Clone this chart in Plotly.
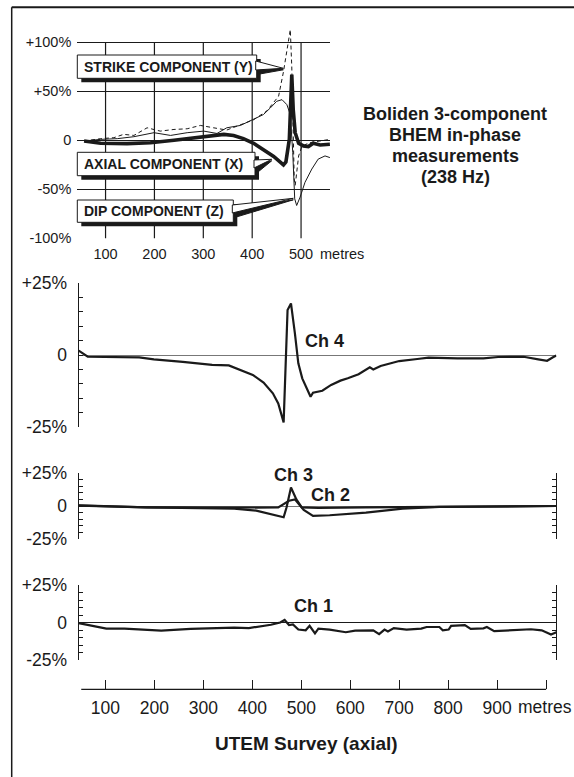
import plotly.graph_objects as go

# ---- top panel: Boliden BHEM, in-phase, % ----
x_axial = [56, 90, 144, 192, 240, 294, 342, 362, 382, 403, 423, 444, 464, 469, 476, 481, 484, 488, 495, 505, 515, 525, 539, 549, 559]
y_axial = [-0.7, -3, -3.4, -2.4, 0, 3.7, 6.1, 5, 1.7, -3, -9.1, -16.5, -25, -22, 1, 67, 31, 7.8, -3, -5.7, -6.4, -3, -4.7, -4.7, -4]

x_dip = [56, 90, 124, 158, 199, 233, 267, 301, 328, 348, 376, 403, 423, 437, 450, 461, 471, 478, 483, 487, 491, 498, 508, 522, 535, 549, 559]
y_dip = [-0.7, 1, 1.7, 3.7, 7.8, 5, 7.8, 9.4, 7, 12.8, 15.2, 21.9, 26.3, 33, 39.8, 41.5, 36.4, 26.3, -12.5, -59.7, -66.5, -58, -42.9, -29.3, -19.2, -15.9, -17.6]

x_strike = [56, 90, 117, 137, 158, 185, 212, 240, 267, 294, 321, 348, 403, 430, 454, 464, 478, 481, 486, 488, 495, 502, 518, 539, 559]
y_strike = [-0.7, 1.7, 2.7, 6.1, 5, 12.8, 9.4, 11.1, 11.8, 15.2, 12.8, 10.5, 21, 30, 45, 70, 113, 75, -39.5, -46, -16, -5.7, -2.4, -0.7, 1]

top_xticks = [100, 200, 300, 400, 500]
top_yticks = [-100, -50, 0, 50, 100]
top_ylabels = ["-100%", "-50%", "0", "+50%", "+100%"]

# ---- UTEM channels, % ----
x_ch4 = [45.5, 64, 169, 199, 258, 318, 352, 378, 401, 423, 442, 453, 464, 472, 479, 487, 494, 502, 519, 524, 543, 561, 580, 595, 617, 640, 647, 662, 700, 737, 760, 819, 872, 902, 954, 984, 1002, 1014, 1021]
y_ch4 = [1.5, -0.6, -0.8, -1.5, -2.4, -3.4, -3.6, -5.4, -6.9, -9.6, -13.3, -16.8, -23.4, 15.6, 17.9, 7.5, -2.9, -8.1, -14.5, -13.1, -12.4, -10.4, -8.9, -8.1, -6.7, -4.3, -5.0, -3.8, -2.1, -1.4, -0.9, -1.2, -1.2, -0.7, -0.6, -1.5, -2.0, -0.8, -0.2]

x_ch3 = [45.5, 184, 363, 408, 464, 470, 479, 490, 501, 535, 632, 782, 1021]
y_ch3 = [0.5, -1, -2, -3.5, -8.5, -1, 14, 5, -1, -1.5, -1, -0.5, 0]

x_ch2 = [45.5, 184, 363, 453, 475, 487, 505, 524, 558, 632, 707, 782, 1021]
y_ch2 = [0.3, -1, -1.3, -1, 4, 5, -3, -7.5, -7, -5, -2, -0.7, 0]

x_ch1 = [45.5, 72, 102, 139, 214, 274, 333, 363, 393, 438, 457, 466, 475, 483, 494, 509, 517, 528, 535, 558, 591, 610, 647, 659, 670, 677, 689, 715, 745, 756, 782, 789, 801, 806, 834, 846, 872, 879, 894, 932, 969, 991, 1010, 1021]
y_ch1 = [-0.4, -2.2, -4.1, -4.1, -5.4, -4.3, -3.9, -3.4, -3.7, -1.5, 0, 1.7, -1.7, -1.3, -4.7, -5.2, -2.2, -7.3, -4.1, -4.7, -6.5, -5.4, -5.2, -7.8, -4.7, -6, -3.7, -4.7, -4.1, -3, -3, -5.2, -4.7, -2.2, -1.7, -4.3, -3.9, -3, -5.8, -5.2, -4.5, -5.2, -8, -6.5]

ch_yticks = [-25, -20, -15, -10, -5, 0, 5, 10, 15, 20, 25]
ch_ylabels = ["-25%", "", "", "", "", "0", "", "", "", "", "+25%"]
bot_xticks = [100, 200, 300, 400, 500, 600, 700, 800, 900, 1000]
bot_xlabels = ["100", "200", "300", "400", "500", "600", "700", "800", "900", ""]

W, H = 574, 777
FONT = "Arial, Liberation Sans, sans-serif"
INK = "#1a1a1a"


def fx(px):
    return px / W


def fy(py):
    return 1 - py / H


fig = go.Figure()

line_thin = dict(color=INK, width=1)
fig.add_trace(go.Scatter(x=x_strike, y=y_strike, mode="lines",
                         line=dict(color=INK, width=1, dash="4px,3px"), xaxis="x", yaxis="y"))
fig.add_trace(go.Scatter(x=x_dip, y=y_dip, mode="lines", line=line_thin, xaxis="x", yaxis="y"))
fig.add_trace(go.Scatter(x=x_axial, y=y_axial, mode="lines",
                         line=dict(color=INK, width=3.6), xaxis="x", yaxis="y"))

ch_line = dict(color=INK, width=2.2)
fig.add_trace(go.Scatter(x=x_ch4, y=y_ch4, mode="lines", line=ch_line, xaxis="x2", yaxis="y2"))
fig.add_trace(go.Scatter(x=x_ch3, y=y_ch3, mode="lines", line=ch_line, xaxis="x3", yaxis="y3"))
fig.add_trace(go.Scatter(x=x_ch2, y=y_ch2, mode="lines", line=ch_line, xaxis="x3", yaxis="y3"))
fig.add_trace(go.Scatter(x=x_ch1, y=y_ch1, mode="lines", line=ch_line, xaxis="x4", yaxis="y4"))

bx_dom = [fx(78.7), fx(556.4)]
bx_rng = [45.5, 1021]
hidden_x = dict(domain=bx_dom, range=bx_rng, showgrid=False, zeroline=False, automargin=False,
                showline=False, showticklabels=False, ticks="")


def ch_yaxis(top, bot, anchor, zcol, mirror):
    return dict(domain=[fy(bot), fy(top)], range=[-25, 25], anchor=anchor, automargin=False,
                tickvals=ch_yticks, ticktext=ch_ylabels, ticks="inside", ticklen=4,
                tickcolor=INK, tickwidth=1.2, showline=True, linecolor=INK, linewidth=1.3,
                mirror=mirror, showgrid=False, zeroline=True, zerolinecolor=zcol,
                zerolinewidth=1, tickfont=dict(size=17.5, color=INK), ticklabelstandoff=7)


fig.update_layout(
    width=W, height=H, margin=dict(l=0, r=0, t=0, b=0, pad=0, autoexpand=False),
    paper_bgcolor="white", plot_bgcolor="white", showlegend=False,
    font=dict(family=FONT, color=INK),
    xaxis=dict(domain=[fx(77.3), fx(330)], range=[42.2, 559.2], anchor="y", automargin=False,
               tickvals=top_xticks, showgrid=False, zeroline=False, showline=False,
               ticks="", tickfont=dict(size=14.5, color=INK), ticklabelstandoff=4),
    yaxis=dict(domain=[fy(239.3), fy(24.7)], range=[-101, 118], anchor="x", automargin=False,
               tickvals=top_yticks, ticktext=top_ylabels, showgrid=True,
               gridcolor=INK, gridwidth=1.2, zeroline=False, showline=False, ticks="",
               tickfont=dict(size=14.5, color=INK), ticklabelstandoff=5),
    xaxis2=dict(hidden_x, anchor="y2"),
    yaxis2=ch_yaxis(283, 427, "x2", "#777777", False),
    yaxis5=dict(overlaying="y2", side="right", anchor="x2", range=[-25, 25], automargin=False,
                tickvals=[-25, 25], ticks="inside", ticklen=4, tickcolor=INK,
                showticklabels=False, showline=True, linecolor=INK, linewidth=1.3,
                showgrid=False, zeroline=False),
    xaxis3=dict(hidden_x, anchor="y3"),
    yaxis3=ch_yaxis(473, 539, "x3", "#777777", "ticks"),
    xaxis4=dict(domain=bx_dom, range=bx_rng, anchor="free", position=fy(689.3), automargin=False,
                tickvals=bot_xticks, ticktext=bot_xlabels, ticks="inside", ticklen=9,
                tickcolor=INK, tickwidth=1.3, showgrid=False, zeroline=False,
                showline=False, tickfont=dict(size=17.5, color=INK), ticklabelstandoff=6),
    yaxis4=ch_yaxis(585, 660, "x4", INK, "ticks"),
)

shapes = []
# frame
shapes.append(dict(type="line", xref="paper", yref="paper", x0=fx(11.7), x1=1, y0=fy(7.3), y1=fy(7.3),
                   line=dict(color=INK, width=2)))
shapes.append(dict(type="line", xref="paper", yref="paper", x0=fx(11.7), x1=fx(11.7), y0=fy(7.3), y1=0,
                   line=dict(color=INK, width=1.5)))
# vertical gridlines of top panel
for v in top_xticks:
    shapes.append(dict(type="line", xref="x", yref="y", x0=v, x1=v, y0=-100, y1=100,
                       layer="below", line=dict(color=INK, width=1.2)))
# bottom distance axis line
shapes.append(dict(type="line", xref="x4", yref="paper", x0=50.7, x1=1000,
                   y0=fy(689.3), y1=fy(689.3), line=dict(color=INK, width=1.3)))


def path(points):
    return "M " + " L ".join(f"{fx(a):.5f},{fy(b):.5f}" for a, b in points) + " Z"


def callout(x0, y0, x1, y1, tip, base0, base1):
    off = 4
    tail = [(x1 - 1, base0), tip, (x1 - 1, base1)]
    tail_sh = [(x1 + off - 1, base0 + off), (tip[0], tip[1] + 1.5), (x1 + off - 1, base1 + off)]
    shapes.append(dict(type="path", xref="paper", yref="paper", path=path(tail_sh),
                       fillcolor=INK, line=dict(color=INK, width=1)))
    shapes.append(dict(type="rect", xref="paper", yref="paper", x0=fx(x0 + off), x1=fx(x1 + off),
                       y0=fy(y1 + off), y1=fy(y0 + off), fillcolor=INK, line=dict(width=0)))
    shapes.append(dict(type="rect", xref="paper", yref="paper", x0=fx(x0), x1=fx(x1),
                       y0=fy(y1), y1=fy(y0), fillcolor="white", line=dict(color=INK, width=1)))
    shapes.append(dict(type="path", xref="paper", yref="paper", path=path(tail),
                       fillcolor="white", line=dict(color=INK, width=1)))


callout(77.3, 55, 256.7, 78.3, (283.3, 68.3), 61, 70)
callout(77.3, 152.3, 255, 175.7, (271.7, 159.3), 160, 168)
callout(77.3, 200, 233.3, 222.3, (293.3, 198.3), 205, 213)
fig.update_layout(shapes=shapes)

ann = []
for text, py in [("STRIKE COMPONENT (Y)", 66.7), ("AXIAL COMPONENT (X)", 164), ("DIP COMPONENT (Z)", 211.2)]:
    ann.append(dict(text=f"<b>{text}</b>", xref="paper", yref="paper", x=fx(82), y=fy(py),
                    xanchor="left", yanchor="middle", showarrow=False, font=dict(size=14, color=INK)))
for text, py in [("Boliden 3-component", 114), ("BHEM in-phase", 135), ("measurements", 156), ("(238 Hz)", 177)]:
    ann.append(dict(text=f"<b>{text}</b>", xref="paper", yref="paper", x=fx(455), y=fy(py),
                    xanchor="center", yanchor="middle", showarrow=False, font=dict(size=18, color=INK)))
ann.append(dict(text="metres", xref="paper", yref="paper", x=fx(318), y=fy(253.5), xanchor="left",
                yanchor="middle", showarrow=False, font=dict(size=14.5, color=INK)))
ann.append(dict(text="metres", xref="paper", yref="paper", x=fx(516), y=fy(706.5), xanchor="left",
                yanchor="middle", showarrow=False, font=dict(size=17.5, color=INK)))
ann.append(dict(text="<b>UTEM Survey (axial)</b>", xref="paper", yref="paper", x=fx(306.5), y=fy(743),
                xanchor="center", yanchor="middle", showarrow=False, font=dict(size=19, color=INK)))
for text, xr, yr, x, y in [("Ch 4", "x2", "y2", 546.6, 4.9), ("Ch 3", "x3", "y3", 483.3, 23.5),
                           ("Ch 2", "x3", "y3", 558.9, 8.3), ("Ch 1", "x4", "y4", 524, 11)]:
    ann.append(dict(text=f"<b>{text}</b>", xref=xr, yref=yr, x=x, y=y, xanchor="center",
                    yanchor="middle", showarrow=False, font=dict(size=18, color=INK)))
fig.update_layout(annotations=ann)

# page body has a default 8px margin; drop it so the figure fills the window
fig.write_html("out.html", config={"displayModeBar": False},
               post_script="document.body.style.margin='0';")
